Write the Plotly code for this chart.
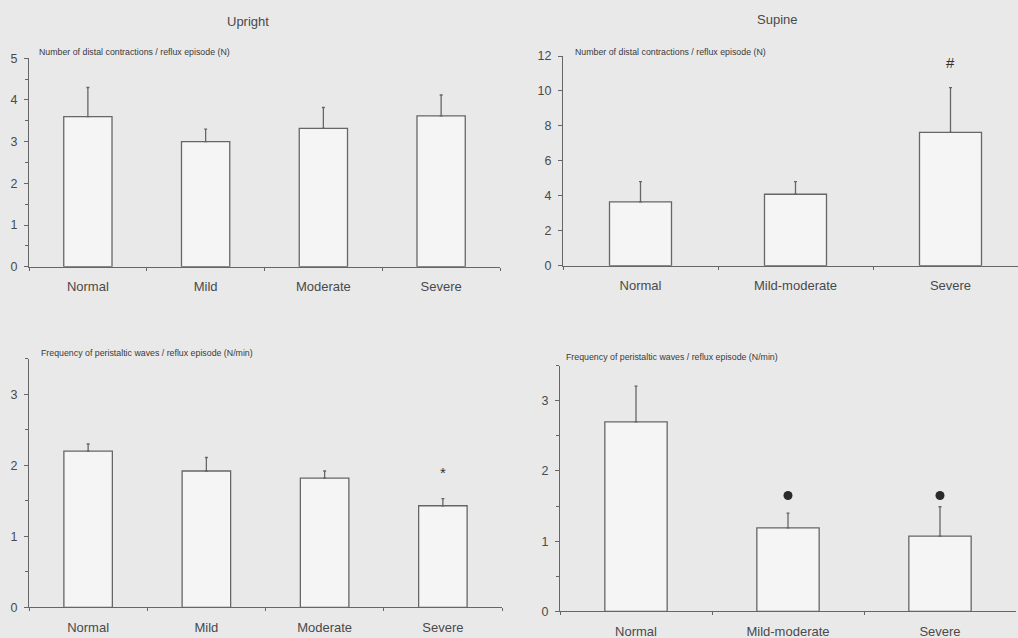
import plotly.graph_objects as go

W, H = 1018, 638

# ---- data ----
cats4 = ["Normal", "Mild", "Moderate", "Severe"]
cats3 = ["Normal", "Mild-moderate", "Severe"]

upright_contr = [3.6, 3.0, 3.32, 3.62]
upright_contr_err = [0.7, 0.3, 0.5, 0.5]

supine_contr = [3.65, 4.09, 7.63]
supine_contr_err = [1.16, 0.72, 2.56]

upright_freq = [2.2, 1.92, 1.82, 1.43]
upright_freq_err = [0.1, 0.19, 0.1, 0.1]

supine_freq = [2.70, 1.19, 1.07]
supine_freq_err = [0.51, 0.21, 0.42]

titles = ["Upright", "Supine"]
ylabels = ["Number of distal contractions / reflux episode (N)",
           "Frequency of peristaltic waves / reflux episode (N/min)"]

BG = "#e9e9e9"
FILL = "#f5f5f5"
LINE = "#666666"
TXT = "#4a4a4a"
FONT = "Liberation Sans, Arial, sans-serif"


def px_x(p):
    return p / W


def px_y(p):
    return 1 - p / H


fig = go.Figure()

panels = [
    dict(x=cats4, y=upright_contr, e=upright_contr_err, xd=(29, 500), yd=(266.7, 58.3),
         yr=[0, 5], dt=1, minor=0.5, bw=0.41, xr=[-0.5, 3.5]),
    dict(x=cats3, y=supine_contr, e=supine_contr_err, xd=(563, 1018), yd=(265.7, 56),
         yr=[0, 12], dt=2, minor=None, bw=0.40, xr=[-0.5, -0.5 + (1018 - 563) / 155]),
    dict(x=cats4, y=upright_freq, e=upright_freq_err, xd=(29, 502), yd=(607.3, 358.8),
         yr=[0, 3.5], dt=1, minor=0.5, bw=0.41, xr=[-0.5, 3.5]),
    dict(x=cats3, y=supine_freq, e=supine_freq_err, xd=(560, 1016), yd=(611.3, 365.7),
         yr=[0, 3.5], dt=1, minor=0.5, bw=0.41, xr=[-0.5, 2.5]),
]

for i, p in enumerate(panels, start=1):
    xa = "x" if i == 1 else f"x{i}"
    ya = "y" if i == 1 else f"y{i}"
    fig.add_trace(go.Bar(
        x=p["x"], y=p["y"], xaxis=xa, yaxis=ya, width=p["bw"],
        marker=dict(color=FILL, line=dict(color=LINE, width=1.3)),
        error_y=dict(type="data", array=p["e"], arrayminus=[0] * len(p["e"]),
                     symmetric=False, color=LINE, thickness=1.3, width=1.5),
        showlegend=False, hoverinfo="skip"))
    xkey = "xaxis" if i == 1 else f"xaxis{i}"
    ykey = "yaxis" if i == 1 else f"yaxis{i}"
    fig.layout[xkey] = dict(
        domain=[px_x(p["xd"][0]), px_x(p["xd"][1])], anchor=ya, automargin=False,
        type="category", range=p["xr"], showline=True, linecolor=LINE, linewidth=1.2,
        ticks="outside", ticklen=3, tickcolor=LINE, tickson="boundaries",
        showgrid=False, zeroline=False, ticklabelstandoff=8,
        tickfont=dict(family=FONT, size=13, color=TXT))
    yd = dict(
        domain=[px_y(p["yd"][0]), px_y(p["yd"][1])], anchor=xa, automargin=False,
        range=p["yr"], dtick=p["dt"], tick0=0, showline=True, linecolor=LINE, linewidth=1.2,
        ticks="outside", ticklen=4, tickcolor=LINE, showgrid=False, zeroline=False,
        ticklabelstandoff=4, tickfont=dict(family=FONT, size=12.5, color=TXT))
    if p["minor"]:
        yd["minor"] = dict(dtick=p["minor"], ticks="outside", ticklen=3, tickcolor=LINE, showgrid=False)
    fig.layout[ykey] = yd

# significance markers
fig.add_trace(go.Scatter(x=["Mild-moderate", "Severe"], y=[1.65, 1.65], xaxis="x4", yaxis="y4",
                         mode="markers", marker=dict(color="#2a2a2a", size=9),
                         showlegend=False, hoverinfo="skip"))

annos = [
    dict(text="#", x="Severe", y=11.62, xref="x2", yref="y2"),
    dict(text="*", x="Severe", y=1.90, xref="x3", yref="y3"),
]
for a in annos:
    fig.add_annotation(**a, showarrow=False, font=dict(family=FONT, size=15, color="#333333"))

# titles
for t, cx, cy in [(titles[0], 248, 21), (titles[1], 777, 20)]:
    fig.add_annotation(text=t, x=px_x(cx), y=px_y(cy), xref="paper", yref="paper",
                       showarrow=False, xanchor="center", yanchor="middle",
                       font=dict(family=FONT, size=13, color=TXT))

# y axis labels
for t, lx, ly in [(ylabels[0], 37, 52), (ylabels[0], 573, 52),
                  (ylabels[1], 39, 353), (ylabels[1], 564, 357)]:
    fig.add_annotation(text=t, x=px_x(lx), y=px_y(ly), xref="paper", yref="paper",
                       showarrow=False, xanchor="left", yanchor="middle",
                       font=dict(family=FONT, size=8.8, color="#3a3a3a"))

fig.update_layout(width=W, height=H, margin=dict(l=0, r=0, t=0, b=0, autoexpand=False),
                  paper_bgcolor=BG, plot_bgcolor=BG, bargap=0.5)

fig.write_html("out.html", config={"displayModeBar": False},
               post_script="document.body.style.margin='0';document.body.style.overflow='hidden';")
